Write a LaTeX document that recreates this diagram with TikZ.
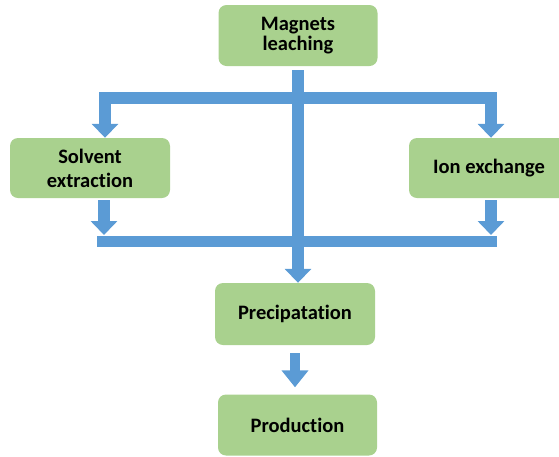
\documentclass[tikz,border=0pt]{standalone}
\usepackage{fontspec}
\setmainfont{Carlito}[Ligatures=NoCommon]
\usetikzlibrary{arrows.meta}
\definecolor{boxgreen}{HTML}{A9D18E}
\definecolor{pipeblue}{HTML}{5B9BD5}

\begin{document}
\begin{tikzpicture}[x=1pt,y=-1pt,
    stage/.style={fill=boxgreen, rounded corners=8pt, minimum width=160pt,
      minimum height=60pt, align=center, inner sep=2pt,
      font=\fontsize{20.5}{24}\selectfont\bfseries},
    pipe/.style={draw=pipeblue, line width=12pt, line join=miter,
      -{Triangle[width=26pt,length=14pt]}},
    bar/.style={draw=pipeblue, line width=11pt}]
        \useasboundingbox (0,0) rectangle (559,456);
        \clip (0,0) rectangle (559,456);
        %
        \node[stage, minimum width=159pt, minimum height=61pt,
          font=\fontsize{20.5}{20.5}\selectfont\bfseries] (lead) at (298,35.5) {Magnets\\leaching};
        \node[stage] (solv) at (90,168) {Solvent\\extraction};
        \node[stage] (ion) at (489,168) {Ion exchange};
        \node[stage, minimum height=62pt] (prec) at (295,314) {Precipatation};
        \node[stage, minimum width=159pt, minimum height=61pt] (prod) at (297.5,425) {Production};
        %
        \coordinate (split) at (298,97.5);
        \coordinate (dropL) at (104,235);
        \coordinate (dropR) at (491,235);
        \coordinate (mergeL) at (97,241);
        \coordinate (mergeR) at (497,241);
        %
        \draw[bar] (mergeL) -- (mergeR);
        \draw[pipe] (split) -| ([xshift=15pt]solv.north);
        \draw[pipe] (split) -| ([xshift=2pt]ion.north);
        \draw[pipe, shorten <=2pt] ([xshift=14pt]solv.south) -- (dropL);
        \draw[pipe, shorten <=2pt] ([xshift=2pt]ion.south) -- (dropR);
        \draw[pipe, shorten <=4pt] (lead.south) -- (lead.south |- prec.north);
        %
        \draw[pipe, line width=10pt, -{Triangle[width=26pt,length=17pt]},
          shorten <=8pt, shorten >=7pt] (prec.south) -- (prec.south |- prod.north);
      \end{tikzpicture}
\end{document}
